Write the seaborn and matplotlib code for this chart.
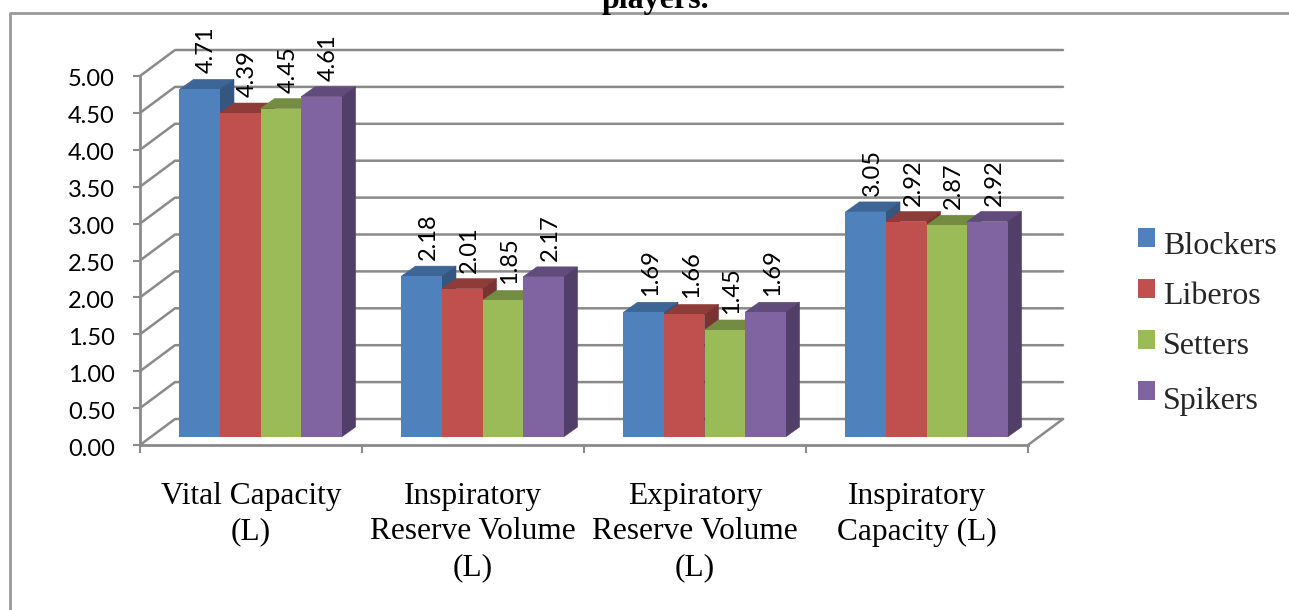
import pandas as pd
import matplotlib.pyplot as plt
import seaborn as sns
from matplotlib.lines import Line2D
from matplotlib.patches import Polygon
from matplotlib.transforms import Affine2D, IdentityTransform

# values
parameters = ["Vital Capacity\n(L)", "Inspiratory\nReserve Volume\n(L)",
              "Expiratory\nReserve Volume\n(L)", "Inspiratory\nCapacity (L)"]
positions = ["Blockers", "Liberos", "Setters", "Spikers"]
blockers = [4.71, 2.18, 1.69, 3.05]
liberos = [4.39, 2.01, 1.66, 2.92]
setters = [4.45, 1.85, 1.45, 2.87]
spikers = [4.61, 2.17, 1.69, 2.92]
y_ticks = [0.0, 0.5, 1.0, 1.5, 2.0, 2.5, 3.0, 3.5, 4.0, 4.5, 5.0]
colors = ["#4F81BD", "#C0504D", "#9BBB59", "#8064A2"]
top_colors = ["#3D6595", "#8F3C39", "#748C42", "#604B7A"]
side_colors = ["#34567F", "#7A3331", "#637839", "#523F69"]

W, H = 1289, 610
GRAY = "#8A8A8A"

sns.set_style("white")
plt.rcParams["font.family"] = ["Lato", "DejaVu Sans"]

df = pd.DataFrame({"parameter": parameters, "Blockers": blockers, "Liberos": liberos,
                   "Setters": setters, "Spikers": spikers})
df = df.melt(id_vars="parameter", value_vars=positions, var_name="position", value_name="value")

fig = plt.figure(figsize=(W / 100, H / 100), dpi=100)
ax = fig.add_axes([140 / W, (H - 445) / H, (1028 - 140) / W, (445 - 76) / H])

sns.barplot(data=df, x="parameter", y="value", hue="position", palette=colors, saturation=1,
            width=0.73, gap=0, linewidth=0, ax=ax)
ax.set_xlim(-0.5, 3.5)
ax.set_ylim(0, 5)
ax.set_xlabel("")
ax.set_ylabel("")
ax.patch.set_alpha(0)

# walls of the fake 3d box
wall_dx, wall_dy = 35, 26
for v in y_ticks:
    x0, y0 = ax.transData.transform((-0.5, v))
    x1, y1 = ax.transData.transform((3.5, v))
    ax.add_line(Line2D([x0, x0 + wall_dx, x1 + wall_dx], [y0, y0 + wall_dy, y1 + wall_dy],
                       transform=IdentityTransform(), color=GRAY, lw=1.8, clip_on=False, zorder=1))
x0, y0 = ax.transData.transform((3.5, 0))
ax.add_line(Line2D([x0, x0 + wall_dx], [y0, y0 + wall_dy], transform=IdentityTransform(),
                   color=GRAY, lw=1.8, clip_on=False, zorder=1))

# bars sit inside the box, each with a top and a side face
shift_x, shift_y = 9.5, 8
depth_x, depth_y = 14, 10
shift = Affine2D().translate(shift_x, shift_y)
z = 3
for g in range(len(parameters)):
    for s, container in enumerate(ax.containers):
        bar = container[g]
        bar.set_transform(ax.transData + shift)
        bar.set_clip_on(False)
        left, base = ax.transData.transform((bar.get_x(), 0))
        right, top = ax.transData.transform((bar.get_x() + bar.get_width(), bar.get_height()))
        left, right = left + shift_x, right + shift_x
        base, top = base + shift_y, top + shift_y
        top_face = [(left, top), (left + depth_x, top + depth_y),
                    (right + depth_x, top + depth_y), (right, top)]
        side_face = [(right, top), (right + depth_x, top + depth_y),
                     (right + depth_x, base + depth_y), (right, base)]
        ax.add_patch(Polygon(top_face, closed=True, transform=IdentityTransform(), fc=top_colors[s],
                             ec=top_colors[s], lw=0.4, clip_on=False, zorder=z))
        ax.add_patch(Polygon(side_face, closed=True, transform=IdentityTransform(), fc=side_colors[s],
                             ec=side_colors[s], lw=0.4, clip_on=False, zorder=z))
        bar.set_zorder(z + 0.5)
        ax.annotate(f"{bar.get_height():.2f}", xy=(bar.get_x() + bar.get_width() / 2, bar.get_height()),
                    xytext=(shift_x + 7, shift_y + depth_y + 6), textcoords="offset pixels",
                    rotation=90, ha="center", va="bottom", fontsize=17, color="black",
                    annotation_clip=False, zorder=50)
        z += 1

# axes
sns.despine(ax=ax, top=True, right=True)
for side in ["left", "bottom"]:
    ax.spines[side].set_color(GRAY)
    ax.spines[side].set_linewidth(2)
    ax.spines[side].set_zorder(2)
ax.set_yticks(y_ticks)
ax.set_yticklabels([f"{v:.2f}" for v in y_ticks], fontsize=17, color="black")
ax.tick_params(axis="y", which="major", left=True, length=5, width=1.5, color=GRAY, pad=13)
for lbl in ax.get_yticklabels():
    lbl.set_transform(lbl.get_transform() + Affine2D().translate(0, -2))
ax.set_xticks(range(len(parameters)))
ax.set_xticklabels(parameters, fontsize=22.6, family="Liberation Serif", linespacing=1.3, color="black")
ax.set_xticks([g - 0.5 for g in range(len(parameters) + 1)], minor=True)
ax.tick_params(axis="x", which="major", bottom=False, length=0, pad=26.5)
ax.tick_params(axis="x", which="minor", bottom=True, length=6, width=1.5, color=GRAY)

# legend
handles, labels = ax.get_legend_handles_labels()
leg = ax.legend(handles, labels, loc="center left", bbox_to_anchor=(1138 / W, (H - 318) / H),
                bbox_transform=fig.transFigure, frameon=False, ncol=1,
                prop={"family": "Liberation Serif", "size": 23}, labelspacing=0.69,
                handlelength=0.53, handleheight=0.53, handletextpad=0.25, borderpad=0, borderaxespad=0)
# text sits a bit under its swatch in the original
for t, drop in zip(leg.get_texts(), [5, 4, 3, 7]):
    t.set_position((0, -drop))

# chart frame and the clipped title
fig.add_artist(Line2D([10 / W, 10 / W, 1], [0, (H - 13) / H, (H - 13) / H], color="#999999", lw=2))
fig.text(655 / W, (H - 8) / H, "players.", ha="center", va="baseline", fontsize=23,
         fontweight="bold", family="Liberation Serif", color="black")

fig.savefig("out.png", dpi=100)
